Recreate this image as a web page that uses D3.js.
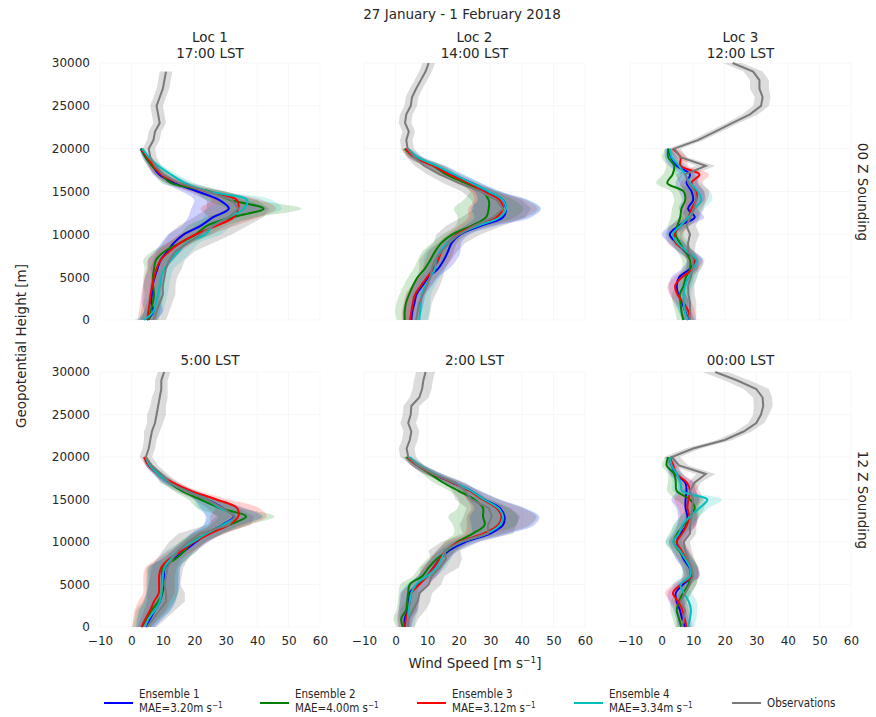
<!DOCTYPE html>
<html>
<head>
<meta charset="utf-8">
<script src="https://cdn.jsdelivr.net/npm/d3@7"></script>
<style>
  body { margin: 0; background: #fff; }
  text { font-family: "DejaVu Sans", sans-serif; fill: #262626; }
  .legend text { font-family: "DejaVu Sans Condensed", "DejaVu Sans", sans-serif; font-stretch: condensed; }
</style>
</head>
<body>
<div id="chart"></div>
<script>
// heights (m) of the model levels and the sounding levels
var ensHeights = [0,1000,2000,3000,4000,5000,6000,7000,8000,9000,10000,11000,12000,13000,14000,15000,16000,17000,18000,19000,20000];
var obsHeights = [0,1000,2000,3000,4000,5000,6000,7000,8000,9000,10000,11000,12000,13000,14000,15000,16000,17000,18000,19000,20000,21000,22000,23000,24000,25000,26000,27000,28000,29000,30000];

var xTicks = [-10,0,10,20,30,40,50,60];
var yTicks = [0,5000,10000,15000,20000,25000,30000];

var seriesNames = ["Ensemble 1","Ensemble 2","Ensemble 3","Ensemble 4","Observations"];
var maeLabels = ["3.20","4.00","3.12","3.34"];
var colors = ["#0000ff","#008000","#ff0000","#00bfbf","#7a7a7a"];

// Loc 1, 00 Z (17:00 LST)
var loc1_00_e1 = [5,7,6.3,6.5,6.7,7.4,8.3,9.3,11.4,13.5,16.7,22,26,31,28,21,13.5,8.8,6.7,4.5,3];
var loc1_00_e2 = [5.6,6.1,6.8,7.2,6.9,6.8,7.2,7.8,10.5,15.5,20.5,24,32,42,31.5,25,12.5,9.5,6.5,4.5,3];
var loc1_00_e3 = [5,5.4,5.8,6.1,6.6,7.2,8,9.3,12,15.5,20.5,27,32.5,34,33.6,24,15,9.5,7,5,3.2];
var loc1_00_e4 = [4,7,7.8,8.5,9,9.5,10.5,12.5,15,17.5,23.6,26,31,35.8,36.8,24.6,17,12.5,8.5,5.5,3.5];
var loc1_00_obs = [7,8,9,10,10,10.5,11,12,14,18,22,26,31,34,32,24,15,10,7.5,6,5.5,7,7.5,9,8.5,8,9,10,10.5,11,null];
var loc1_00_ensSpread = [3,3,3,3,3,3,3,4,4,4,5,6,8,12,8,5,3,2,1.5,1,0.5];
var loc1_00_obsSpread = [4,4,4,4,4,4,5,5,6,8,10,11,11,10,8,6,4,3,2,2,2,2,2,2,2,2,2,2,2,2,2];

// Loc 2, 00 Z (14:00 LST)
var loc2_00_e1 = [5,5.3,6,6.6,8.5,10.5,13.5,15.3,16.6,17.8,20.5,27,34,35,34,29,24,18,12.5,6.5,3.5];
var loc2_00_e2 = [2.9,2.9,3.3,4.3,5.5,7,9.3,11,12.5,14.5,18,24,28.7,29.5,29.5,27.5,22,16,12,6,2.9];
var loc2_00_e3 = [4.6,5,5.5,6.2,8,10,12,13.5,14.5,16.5,19.5,25,32,34,33,28,23,17,12,6,3.2];
var loc2_00_e4 = [7.5,7.8,8,8.3,9.5,11,12.5,12.8,14,16.5,20,26,33,35,34,29.5,24,18.5,13,7,4];
var loc2_00_obs = [6.5,7,7.5,8.7,10,11,11.5,12.5,14.5,17,20,25,31,34,32,27,20,14,9,6,3.8,3.4,4.2,3,3.4,4.8,5.2,6.5,8,9.5,10.5];
var loc2_00_ensSpread = [2.5,3,3,3,3,3,3.5,4,4,3,3,5,9,11,8,4,3,3,3,2,1];
var loc2_00_obsSpread = [4,4,4,4,4,4,4,5,5,5,7,9,10,9,8,6,5,4,3,2.5,2,2,2,2,2,2,2,2,2,2,2];

// Loc 3, 00 Z (12:00 LST)
var loc3_00_e1 = [8.5,7.5,6.5,5.3,4.8,5.6,9,10.5,7.5,4.8,2.6,5.5,10.5,8.4,10,9.5,7.9,9,4.8,3,2];
var loc3_00_e2 = [6.9,6.3,6,5.8,7,7.7,9,9,7.5,5.8,4.4,5,5.9,6.3,7.5,7,1.8,3.5,4,2.1,2.1];
var loc3_00_e3 = [9,8.5,7,5,4.3,6.5,10,10.6,8,4.5,4,6,8.5,9.5,11,11,9.5,12,6,6,3.5];
var loc3_00_e4 = [8.4,7.4,7,7,7.5,8.6,10,11.1,8,5,3.5,6,8.5,10.5,12.5,11.5,9,7.5,5.5,3.2,2.6];
var loc3_00_obs = [9,9,9,8.5,8.4,9.3,9.8,10,8.5,8.4,9,7.9,9.2,10.3,11,10.5,8.5,7.5,14,6,4,11.5,17,22.5,28,31.5,32,31,31,29,22.5];
var loc3_00_ensSpread = [2,2,2.5,2.5,2.5,2.5,2.5,2.5,2.5,2.5,2.5,3,3,3,3.5,4,3.5,3,2.5,2,1];
var loc3_00_obsSpread = [2,2,2,2,2,2,2,2,2,2.5,3,3,3,3,3,3,3,3,3,2,2,2,2,2,2.5,2.5,2.5,3,3,3,3];

// Loc 1, 12 Z (5:00 LST)
var loc1_12_e1 = [4.5,6,7.5,9,9.8,10.4,10.4,10.6,13.5,17,20.5,24,28.9,32.6,29,24,18,12,8.5,5.6,4.3];
var loc1_12_e2 = [3.2,5,6.5,8.5,9.8,9.8,9.8,10,14,17,19.4,24.5,31,36.5,28,22,16,12,9,6,4.5];
var loc1_12_e3 = [3.3,4.5,6,7.2,8.7,8.8,8.8,9.5,12,16,20,25,31,34,33.6,27,19,13,8.5,5.5,4];
var loc1_12_e4 = [4.3,5.5,7.5,9,9.5,9.8,10,10.5,12.5,15,19.5,24,29,33,28,24,17.5,12,8.5,5.8,4.5];
var loc1_12_obs = [5,7,9,11,11,10.5,11,11.5,13,15,18,22,31,33,29,24,17,12,9.5,6.5,4.6,5.5,6,6.5,7.5,8,8.5,9,9.5,9.5,10.4];
var loc1_12_ensSpread = [3,4,5,5,5,5,5,5,4,4,4,5,6,9,7,4,2.5,2,1.5,1,0.5];
var loc1_12_obsSpread = [3,4,5,6,6,5,5,5,5,5,6,7,7,6,5,4,3,3,2,2,2,2,2,2.5,2.5,3,2.5,2.5,2,2,2];

// Loc 2, 12 Z (2:00 LST)
var loc2_12_e1 = [2.9,2.9,3.9,4.2,4.5,7,10,12,14,17,22,30,34,34.5,33,28,24,18,12,7,3.9];
var loc2_12_e2 = [2.3,1.8,3.3,3.7,4,4.5,8.5,10.5,13,16.5,19.5,24.5,28.2,27.7,27.7,25,20,15,11,7,3.4];
var loc2_12_e3 = [3,3.3,4,4.5,5,7.5,10,12,14,16,20,28,32.5,33.5,32,27.5,23.5,18,12,7,3.8];
var loc2_12_e4 = [3.9,3.9,4.2,4.5,5,6.5,10,13,14.5,16,21,29,33,34,32.5,28,24,18.5,12.5,7.5,4.4];
var loc2_12_obs = [4,4.2,5.5,7,7.6,10.5,11.5,14,16,15.5,20.5,29.3,29.3,30.5,29.5,24,22,19,12,7,4,3.5,4.5,5,4,4.8,5,7.5,8.4,8.8,9.5];
var loc2_12_ensSpread = [2,2.5,3,3,3,3,3,3,3,3,4,6,10,11,8,5,3,3,2.5,2,1];
var loc2_12_obsSpread = [2,3,4,4,4,4,4,6,5,5,6,8,9,9,7,5,4,3,3,2,2.5,2.5,2.5,2.5,2.5,2.5,2.5,3,3,3,3];

// Loc 3, 12 Z (00:00 LST)
var loc3_12_e1 = [7.4,6.5,5.8,4.8,4.5,6.8,9.5,8.8,7,5.8,4.8,6,7.9,8.2,7.6,7.6,7.9,7.5,4.5,3.2,2.6];
var loc3_12_e2 = [6.3,5.5,4.8,5.5,6.8,8.5,9,9,7.5,5.5,3.8,5,7,9,10.5,9,4.8,4.5,4,1.6,2.1];
var loc3_12_e3 = [7.9,7.3,6.6,5.3,3.6,6,9.5,9.2,7.7,6.3,4.8,6.5,8,8.8,8.2,8.5,9,8,4.8,3.7,2.6];
var loc3_12_e4 = [8.4,9,9.3,8.6,7,6,9,9,7.5,5.8,3.7,5.5,6.6,9,12,14.5,6.5,6,4.8,3.2,2.6];
var loc3_12_obs = [6.5,7,7.4,6,7.5,9,10,9.5,8.4,7.5,7,9,9,9.5,9.7,10,9,10.5,14,5.5,3.3,10,20,26,30,31.5,32.2,32,30,24,17];
var loc3_12_ensSpread = [2,2,2,2.5,2.5,2.5,2.5,2.5,2.5,2.5,2.5,2.5,3,3,3,4.5,3,2.5,2,1.5,1];
var loc3_12_obsSpread = [2,2,2,2,2,2,2,2,2,2,2,2,2,2,2,2,2,2,3,3,2.5,2.5,2.5,2.5,2.5,2.5,3,3,4,4,4];

var panels = [
  {col:0,row:0,title:["Loc 1","17:00 LST"],ens:[loc1_00_e1,loc1_00_e2,loc1_00_e3,loc1_00_e4],obs:loc1_00_obs,sE:loc1_00_ensSpread,sO:loc1_00_obsSpread},
  {col:1,row:0,title:["Loc 2","14:00 LST"],ens:[loc2_00_e1,loc2_00_e2,loc2_00_e3,loc2_00_e4],obs:loc2_00_obs,sE:loc2_00_ensSpread,sO:loc2_00_obsSpread},
  {col:2,row:0,title:["Loc 3","12:00 LST"],ens:[loc3_00_e1,loc3_00_e2,loc3_00_e3,loc3_00_e4],obs:loc3_00_obs,sE:loc3_00_ensSpread,sO:loc3_00_obsSpread},
  {col:0,row:1,title:["5:00 LST"],ens:[loc1_12_e1,loc1_12_e2,loc1_12_e3,loc1_12_e4],obs:loc1_12_obs,sE:loc1_12_ensSpread,sO:loc1_12_obsSpread},
  {col:1,row:1,title:["2:00 LST"],ens:[loc2_12_e1,loc2_12_e2,loc2_12_e3,loc2_12_e4],obs:loc2_12_obs,sE:loc2_12_ensSpread,sO:loc2_12_obsSpread},
  {col:2,row:1,title:["00:00 LST"],ens:[loc3_12_e1,loc3_12_e2,loc3_12_e3,loc3_12_e4],obs:loc3_12_obs,sE:loc3_12_ensSpread,sO:loc3_12_obsSpread}
];

var W = 876, H = 717;
var colX = [[100,320],[364,585],[630,851]];
var rowY = [[63,320],[372,627]];

var svg = d3.select("#chart").append("svg")
    .attr("width", W)
    .attr("height", H);

svg.append("text")
    .attr("x", 462).attr("y", 19)
    .attr("text-anchor", "middle")
    .style("font-size", "13.5px")
    .text("27 January - 1 February 2018");

panels.forEach(function(p) {
  var x = d3.scaleLinear().domain([-10, 60]).range(colX[p.col]);
  var y = d3.scaleLinear().domain([0, 30000]).range([rowY[p.row][1], rowY[p.row][0]]);
  var g = svg.append("g");

  // grid
  g.selectAll(".vg").data(xTicks).enter().append("line")
      .attr("x1", function(d) { return x(d); }).attr("x2", function(d) { return x(d); })
      .attr("y1", y(0)).attr("y2", y(30000))
      .style("stroke", "#f7f7f7").style("stroke-width", 1);
  g.selectAll(".hg").data(yTicks).enter().append("line")
      .attr("x1", x(-10)).attr("x2", x(60))
      .attr("y1", function(d) { return y(d); }).attr("y2", function(d) { return y(d); })
      .style("stroke", "#f7f7f7").style("stroke-width", 1);

  // panel titles
  var cx = (colX[p.col][0] + colX[p.col][1]) / 2;
  var ty = p.row == 0 ? 42 : 365;
  p.title.forEach(function(t, i) {
    g.append("text")
        .attr("x", cx)
        .attr("y", ty + i * 16)
        .attr("text-anchor", "middle")
        .style("font-size", "13.5px")
        .text(t);
  });

  var ensRows = p.ens.map(function(vals) {
    return ensHeights.map(function(h, i) { return {h: h, v: vals[i], s: p.sE[i]}; });
  });
  var obsRows = obsHeights.map(function(h, i) { return {h: h, v: p.obs[i], s: p.sO[i]}; });

  var obsBand = d3.area()
      .defined(function(d) { return d.v != null; })
      .y(function(d) { return y(d.h); })
      .x0(function(d) { return x(d.v - d.s); })
      .x1(function(d) { return x(d.v + d.s); });
  var band = d3.area()
      .y(function(d) { return y(d.h); })
      .x0(function(d) { return x(d.v - d.s); })
      .x1(function(d) { return x(d.v + d.s); })
      .curve(d3.curveCatmullRom);
  var line = d3.line()
      .y(function(d) { return y(d.h); })
      .x(function(d) { return x(d.v); })
      .curve(d3.curveCatmullRom);
  var obsLine = d3.line()
      .defined(function(d) { return d.v != null; })
      .y(function(d) { return y(d.h); })
      .x(function(d) { return x(d.v); });

  g.append("path").datum(obsRows)
      .attr("d", obsBand)
      .style("fill", "#808080").style("fill-opacity", 0.28);

  ensRows.forEach(function(rows, k) {
    g.append("path").datum(rows)
        .attr("d", band)
        .style("fill", colors[k]).style("fill-opacity", 0.18);
  });
  ensRows.forEach(function(rows, k) {
    g.append("path").datum(rows)
        .attr("d", line)
        .style("fill", "none").style("stroke", colors[k]).style("stroke-width", 2);
  });
  g.append("path").datum(obsRows)
      .attr("d", obsLine)
      .style("fill", "none").style("stroke", colors[4]).style("stroke-width", 2);

  // axes
  if (p.col == 0) {
    var ya = g.append("g")
        .attr("transform", "translate(" + x(-10) + ",0)")
        .call(d3.axisLeft(y).tickValues(yTicks).tickSize(0).tickPadding(10).tickFormat(d3.format("d")));
    ya.select(".domain").remove();
    ya.selectAll("text").style("font-size", "12px").style("fill", "#262626").style("font-family", "DejaVu Sans");
  }
  if (p.row == 1) {
    var xa = g.append("g")
        .attr("transform", "translate(0," + y(0) + ")")
        .call(d3.axisBottom(x).tickValues(xTicks).tickSize(0).tickPadding(9));
    xa.select(".domain").remove();
    xa.selectAll("text").style("font-size", "12px").style("fill", "#262626").style("font-family", "DejaVu Sans");
  }
});

// axis labels
svg.append("text")
    .attr("transform", "translate(26,346) rotate(-90)")
    .attr("text-anchor", "middle")
    .style("font-size", "13.5px")
    .text("Geopotential Height [m]");

var xl = svg.append("text")
    .attr("x", 475).attr("y", 668)
    .attr("text-anchor", "middle")
    .style("font-size", "13.5px");
xl.append("tspan").text("Wind Speed [m s");
xl.append("tspan").attr("dy", -5).style("font-size", "9px").text("\u22121");
xl.append("tspan").attr("dy", 5).text("]");

svg.append("text")
    .attr("transform", "translate(858,192) rotate(90)")
    .attr("text-anchor", "middle")
    .style("font-size", "13.5px")
    .text("00 Z Sounding");
svg.append("text")
    .attr("transform", "translate(858,500) rotate(90)")
    .attr("text-anchor", "middle")
    .style("font-size", "13.5px")
    .text("12 Z Sounding");

// legend
var legendX = [104, 260, 417, 574, 732];
var legend = svg.append("g").attr("class", "legend");
seriesNames.forEach(function(name, k) {
  var lg = legend.append("g").attr("transform", "translate(" + legendX[k] + ",703)");
  lg.append("line")
      .attr("x1", 0).attr("x2", 29).attr("y1", 0).attr("y2", 0)
      .style("stroke", colors[k]).style("stroke-width", 2);
  if (k < 4) {
    lg.append("text").attr("x", 35).attr("y", -5).style("font-size", "11.5px").text(name);
    var t2 = lg.append("text").attr("x", 35).attr("y", 9).style("font-size", "11.5px");
    t2.append("tspan").text("MAE=" + maeLabels[k] + "m s");
    t2.append("tspan").attr("dy", -4).style("font-size", "8px").text("\u22121");
  } else {
    lg.append("text").attr("x", 35).attr("y", 4).style("font-size", "11.5px").text(name);
  }
});
</script>
</body>
</html>
